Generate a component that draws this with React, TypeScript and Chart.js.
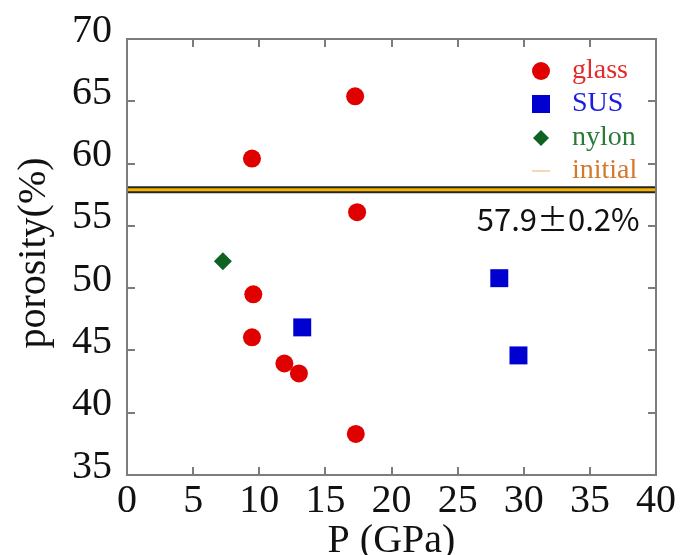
import React, { useEffect, useRef } from "react";
import { Chart, registerables } from "chart.js";

Chart.register(...registerables);

// ---- data ----
const glassP = [9.45, 17.25, 17.4, 9.55, 9.45, 11.9, 13.0, 17.3];
const glassPorosity = [60.4, 65.4, 56.1, 49.5, 46.05, 43.95, 43.15, 38.3];
const susP = [13.25, 28.15, 29.6];
const susPorosity = [46.85, 50.8, 44.6];
const nylonP = [7.25];
const nylonPorosity = [52.15];
const initialPorosity = 57.9;
const initialSpanP = [0, 40];
const seriesNames = ["glass", "SUS", "nylon", "initial"];
const xTickValues = [0, 5, 10, 15, 20, 25, 30, 35, 40];
const yTickValues = [35, 40, 45, 50, 55, 60, 65, 70];
const xTitle = "P (GPa)";
const yTitle = "porosity(%)";
const noteText = "57.9±0.2%";

// ---- styling / layout ----
const SERIF = "'Liberation Serif', 'Times New Roman', serif";
const NOTE_AT = { x: 26.45, y: 55.5 };
const legendStyle = [
  { kind: "circle", marker: "#e00000", text: "#e42a2a" },
  { kind: "rect", marker: "#0000d0", text: "#1c1ce0" },
  { kind: "diamond", marker: "#0f6322", text: "#2a7a38" },
  { kind: "line", marker: "#f7d6b6", text: "#d4792c" },
];

const decorPlugin = {
  id: "decor",
  afterDatasetsDraw(chart: any) {
    const { ctx, chartArea: a, scales } = chart;
    const xs = scales.x;
    const ys = scales.y;
    ctx.save();
    // frame
    ctx.strokeStyle = "#7c7c7c";
    ctx.lineWidth = 2;
    ctx.strokeRect(a.left, a.top, a.right - a.left, a.bottom - a.top);
    // inward ticks on all sides
    ctx.beginPath();
    const TL = 8;
    xTickValues.forEach((v) => {
      const px = Math.round(xs.getPixelForValue(v));
      ctx.moveTo(px, a.bottom);
      ctx.lineTo(px, a.bottom - TL);
      ctx.moveTo(px, a.top);
      ctx.lineTo(px, a.top + TL);
    });
    yTickValues.forEach((v) => {
      const py = Math.round(ys.getPixelForValue(v));
      ctx.moveTo(a.left, py);
      ctx.lineTo(a.left + TL, py);
      ctx.moveTo(a.right, py);
      ctx.lineTo(a.right - TL, py);
    });
    ctx.stroke();

    // note text
    ctx.fillStyle = "#111";
    ctx.font = "31px 'Noto Sans CJK JP', 'Noto Sans', sans-serif";
    ctx.textAlign = "left";
    ctx.textBaseline = "middle";
    ctx.fillText(noteText, xs.getPixelForValue(NOTE_AT.x), ys.getPixelForValue(NOTE_AT.y));

    // legend
    const lx = a.right - 115;
    const tx = a.right - 84;
    const rows = [70, 103, 137, 170].map((r) => r - 38 + a.top);
    ctx.font = "28px " + SERIF;
    seriesNames.forEach((name, i) => {
      const st = legendStyle[i];
      const cy = rows[i];
      ctx.fillStyle = st.marker;
      ctx.strokeStyle = st.marker;
      if (st.kind === "circle") {
        ctx.beginPath();
        ctx.arc(lx, cy, 9, 0, Math.PI * 2);
        ctx.fill();
      } else if (st.kind === "rect") {
        ctx.fillRect(lx - 9, cy - 9, 18, 18);
      } else if (st.kind === "diamond") {
        ctx.beginPath();
        ctx.moveTo(lx, cy - 8);
        ctx.lineTo(lx + 8, cy);
        ctx.lineTo(lx, cy + 8);
        ctx.lineTo(lx - 8, cy);
        ctx.closePath();
        ctx.fill();
      } else {
        ctx.lineWidth = 2;
        ctx.beginPath();
        ctx.moveTo(lx - 9, cy);
        ctx.lineTo(lx + 9, cy);
        ctx.stroke();
      }
      ctx.fillStyle = st.text;
      ctx.textBaseline = "middle";
      ctx.fillText(name, tx, cy);
    });

    // axis titles
    ctx.fillStyle = "#111";
    ctx.font = "40px " + SERIF;
    ctx.textAlign = "center";
    ctx.textBaseline = "alphabetic";
    ctx.fillText(xTitle, (a.left + a.right) / 2, 552);
    ctx.save();
    ctx.translate(45, (a.top + a.bottom) / 2 - 4);
    ctx.rotate(-Math.PI / 2);
    ctx.fillText(yTitle, 0, 0);
    ctx.restore();
    ctx.restore();
  },
};

export default function App() {
  const ref = useRef<HTMLCanvasElement | null>(null);
  useEffect(() => {
    if (!ref.current) return;
    const toPts = (xsArr: number[], ysArr: number[]) => xsArr.map((x, i) => ({ x, y: ysArr[i] }));
    const initialPts = initialSpanP.map((x) => ({ x, y: initialPorosity }));
    const chart = new Chart(ref.current, {
      type: "scatter",
      data: {
        datasets: [
          {
            label: seriesNames[0],
            data: toPts(glassP, glassPorosity),
            pointStyle: "circle",
            pointRadius: 9,
            pointHoverRadius: 9,
            backgroundColor: "#e00000",
            borderWidth: 0,
          },
          {
            label: seriesNames[1],
            data: toPts(susP, susPorosity),
            pointStyle: "rect",
            pointRadius: 12.7,
            pointHoverRadius: 12.7,
            backgroundColor: "#0000d0",
            borderWidth: 0,
          },
          {
            label: seriesNames[2],
            data: toPts(nylonP, nylonPorosity),
            pointStyle: "rectRot",
            pointRadius: 9,
            pointHoverRadius: 9,
            backgroundColor: "#0f6322",
            borderWidth: 0,
          },
          {
            type: "line",
            label: seriesNames[3],
            data: initialPts,
            borderColor: "#f6b400",
            borderWidth: 3,
            pointRadius: 0,
            showLine: true,
          },
          {
            type: "line",
            label: "initial-outline",
            data: initialPts,
            borderColor: "#262626",
            borderWidth: 7,
            pointRadius: 0,
            showLine: true,
          },
        ] as any,
      },
      options: {
        animation: false,
        responsive: false,
        maintainAspectRatio: false,
        layout: { padding: { top: 38, right: 25, left: 0, bottom: 0 } },
        plugins: { legend: { display: false }, tooltip: { enabled: false } },
        scales: {
          x: {
            type: "linear",
            min: 0,
            max: 40,
            grid: { display: false, drawTicks: false },
            border: { display: false },
            afterBuildTicks: (s: any) => {
              s.ticks = xTickValues.map((v) => ({ value: v }));
            },
            afterFit: (s: any) => {
              s.height = 80;
            },
            ticks: {
              padding: 2,
              color: "#111",
              font: { family: SERIF, size: 40 },
              maxRotation: 0,
              autoSkip: false,
            },
          },
          y: {
            type: "linear",
            min: 35,
            max: 70,
            grid: { display: false, drawTicks: false },
            border: { display: false },
            afterBuildTicks: (s: any) => {
              s.ticks = yTickValues.map((v) => ({ value: v }));
            },
            afterFit: (s: any) => {
              s.width = 127;
            },
            ticks: {
              padding: 15,
              labelOffset: -8,
              color: "#111",
              font: { family: SERIF, size: 40 },
              autoSkip: false,
            },
          },
        },
      } as any,
      plugins: [decorPlugin],
    });
    return () => chart.destroy();
  }, []);
  return (
    <div style={{ position: "fixed", left: 0, top: 0, width: 681, height: 555, background: "#fff" }}>
      <canvas ref={ref} width={681} height={555} style={{ width: 681, height: 555, display: "block" }} />
    </div>
  );
}
